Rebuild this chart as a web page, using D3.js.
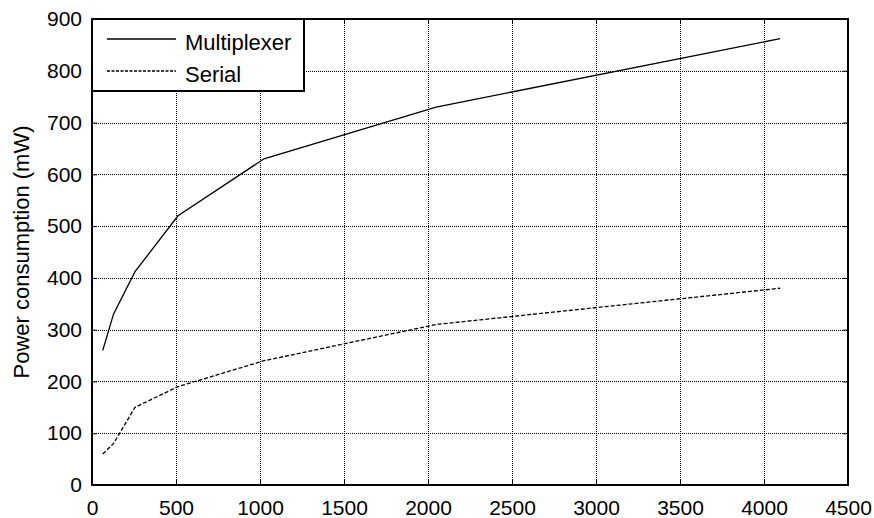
<!DOCTYPE html>
<html><head><meta charset="utf-8">
<script src="https://cdn.jsdelivr.net/npm/d3@7"></script>
<style>body{margin:0;background:#fff;} text{font-family:"Liberation Sans",Arial,sans-serif;}</style>
</head><body><svg id="c" width="874" height="518"></svg>
<script>
const xValues = [64, 128, 256, 512, 1024, 2048, 4096];
const multiplexer = [260, 330, 412, 520, 630, 730, 862];
const serial = [60, 80, 150, 190, 240, 310, 380];
const xTicks = [0, 500, 1000, 1500, 2000, 2500, 3000, 3500, 4000, 4500];
const yTicks = [0, 100, 200, 300, 400, 500, 600, 700, 800, 900];
const seriesNames = ["Multiplexer", "Serial"];

const svg = d3.select("#c");
const L = 92, R = 848, T = 19, B = 485;
const x = d3.scaleLinear().domain([0, 4500]).range([L, R]);
const y = d3.scaleLinear().domain([0, 900]).range([B, T]);
const FS = "21px";

svg.append("rect").attr("width", 874).attr("height", 518).attr("fill", "#fff");

// grid
const g = svg.append("g");
g.selectAll(".vg").data(xTicks.slice(1, -1)).enter().append("line")
  .attr("x1", d => Math.round(x(d)) + 0.5).attr("x2", d => Math.round(x(d)) + 0.5)
  .attr("y1", T).attr("y2", B).attr("stroke", "#000").attr("stroke-width", 1).attr("stroke-dasharray", "1,1");
g.selectAll(".hg").data(yTicks.slice(1, -1)).enter().append("line")
  .attr("y1", d => Math.round(y(d)) + 0.5).attr("y2", d => Math.round(y(d)) + 0.5)
  .attr("x1", L).attr("x2", R).attr("stroke", "#000").attr("stroke-width", 1).attr("stroke-dasharray", "1,1");

// axes
const xAxis = d3.axisBottom(x).tickValues(xTicks).tickSize(-5).tickPadding(15).tickFormat(d3.format("d"));
const yAxis = d3.axisLeft(y).tickValues(yTicks).tickSize(-5).tickPadding(10).tickFormat(d3.format("d"));
const xa = svg.append("g").attr("transform", `translate(0,${B})`).call(xAxis);
const ya = svg.append("g").attr("transform", `translate(${L},0)`).call(yAxis);
const xaTop = svg.append("g").attr("transform", `translate(0,${T})`).call(d3.axisTop(x).tickValues(xTicks).tickSize(-5).tickFormat(""));
const yaRight = svg.append("g").attr("transform", `translate(${R},0)`).call(d3.axisRight(y).tickValues(yTicks).tickSize(-5).tickFormat(""));
[xa, ya, xaTop, yaRight].forEach(a => {
  a.select(".domain").remove();
  a.selectAll("line").attr("stroke", "#000");
  a.selectAll("text").attr("fill", "#000").style("font-size", FS).style("font-family", "Liberation Sans, Arial, sans-serif");
});
svg.append("rect").attr("x", L).attr("y", T).attr("width", R - L).attr("height", B - T)
  .attr("fill", "none").attr("stroke", "#000").attr("stroke-width", 2);

// lines
const line = d3.line().x((d, i) => x(xValues[i])).y(d => y(d));
svg.append("path").datum(multiplexer).attr("d", line).attr("fill", "none").attr("stroke", "#000").attr("stroke-width", 1.3);
svg.append("path").datum(serial).attr("d", line).attr("fill", "none").attr("stroke", "#000").attr("stroke-width", 1.3).attr("stroke-dasharray", "4,2");

// legend
const leg = svg.append("g");
leg.append("rect").attr("x", L).attr("y", T).attr("width", 304 - L).attr("height", 91 - T)
  .attr("fill", "#fff").attr("stroke", "#000").attr("stroke-width", 2);
const ly = [39, 71];
seriesNames.forEach((n, i) => {
  leg.append("line").attr("x1", 107).attr("x2", 176).attr("y1", ly[i]).attr("y2", ly[i])
    .attr("stroke", "#000").attr("stroke-width", 1.3).attr("stroke-dasharray", i === 1 ? "3,1.5" : null);
  leg.append("text").attr("x", 185).attr("y", ly[i] + 11).text(n).style("font-size", "22px");
});

// y label
svg.append("text").attr("transform", `translate(29,${(T + B) / 2}) rotate(-90)`).attr("text-anchor", "middle")
  .style("font-size", "22px").text("Power consumption (mW)");
</script></body></html>
